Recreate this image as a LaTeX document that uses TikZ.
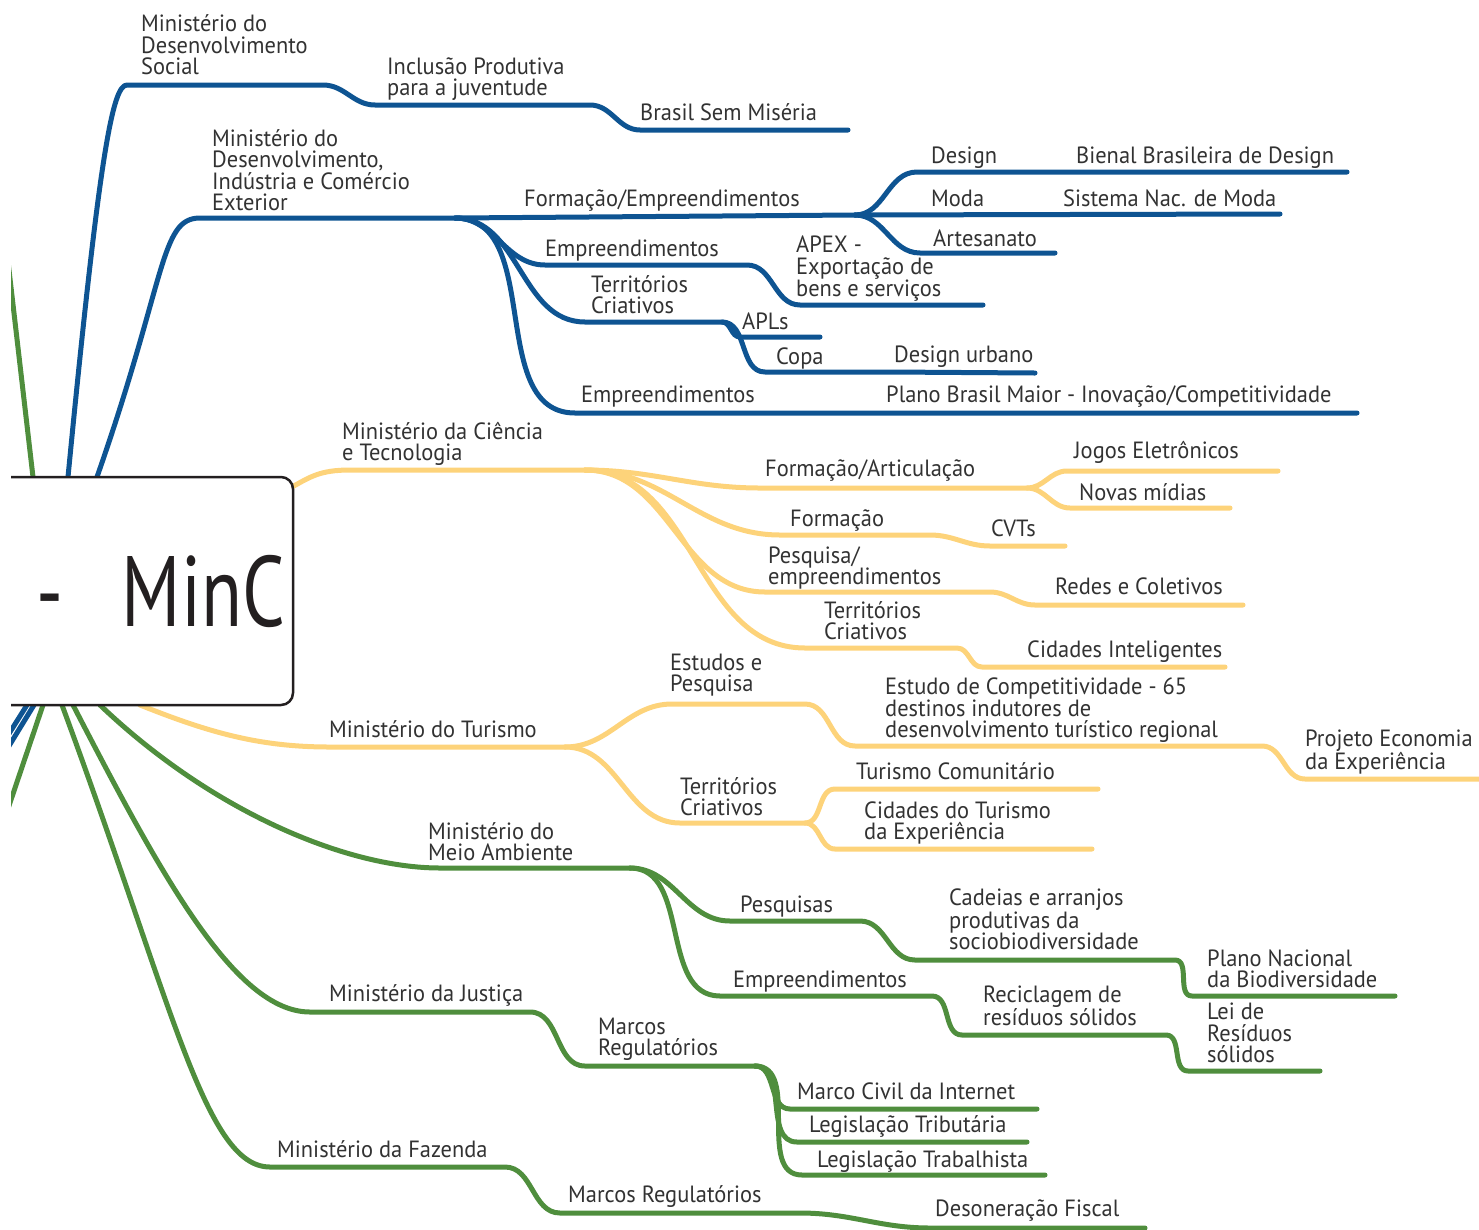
\documentclass[tikz,border=0pt]{standalone}
\usepackage{fontspec}
\setmainfont[FakeStretch=0.955]{PT Sans}
\usetikzlibrary{positioning}
\definecolor{minblue}{RGB}{14,84,146}
\definecolor{minyellow}{RGB}{253,211,122}
\definecolor{mingreen}{RGB}{79,142,61}
\definecolor{txtgray}{RGB}{50,50,50}
\definecolor{boxblack}{RGB}{35,31,32}

% a branch segment: start and end of the line under a label
\newcommand{\seg}[3]{\coordinate (#1-a) at (#2); \coordinate (#1-b) at (#3);}

\begin{document}
\begin{tikzpicture}[x=1pt, y=-1pt,
  lbl/.style = {anchor=south west, align=left, inner sep=0pt, text depth=0pt,
    text=txtgray, font=\fontsize{23.5}{21.5}\selectfont},
  branch/.style = {line width=5pt, line cap=round, line join=round},
  bl/.style = {branch, draw=minblue},
  ye/.style = {branch, draw=minyellow},
  gr/.style = {branch, draw=mingreen},
  sc/.style = {out=0, in=180},
  rootbox/.style = {draw=boxblack, line width=2.5pt, rounded corners=12pt,
    fill=white, minimum width=493pt, minimum height=228pt, text width=477pt,
    inner xsep=8pt, align=right, text=boxblack}
  ]
  \useasboundingbox (0,0) rectangle (1479,1229);
  \clip (11,-10) rectangle (1490,1240);

  % points on the central box
  \coordinate (r-top) at (33,477);
  \coordinate (r-mds) at (68,477);
  \coordinate (r-mdic) at (97,477);
  \coordinate (r-mct) at (292,487);
  \coordinate (r-b2) at (27,705);
  \coordinate (r-b1) at (34,705);
  \coordinate (r-g) at (43,705);
  \coordinate (r-mf) at (62,705);
  \coordinate (r-mj) at (73,705);
  \coordinate (r-mma) at (100,705);
  \coordinate (r-tur) at (140,705);
  % free ends beyond the left edge
  \coordinate (off-top) at (-10,106);
  \coordinate (off-g) at (-10,862);
  \coordinate (off-b1) at (-10,777);
  \coordinate (off-b2) at (-10,764);

  % blue
  \seg{mds}{127,85}{323,85}
  \seg{inc}{375,105}{590,105}
  \seg{bsm}{640,130}{848,130}
  \seg{mdic}{200,218}{455,218}
  \seg{fem}{455,218}{855,215}
  \seg{des}{917,172}{1030,172}
  \seg{bie}{1030,172}{1347,172}
  \seg{mod}{855,215}{1280,214}
  \seg{art}{920,253}{1055,253}
  \seg{emp1}{545,265}{747,265}
  \seg{apex}{800,305}{983,305}
  \seg{ter1}{585,322}{722,322}
  \seg{apl}{740,337}{820,337}
  \seg{copa}{765,372}{890,372}
  \seg{durb}{890,372}{1035,373}
  \seg{emp2}{575,413}{1357,413}
  % yellow
  \seg{mct}{350,470}{585,470}
  \seg{fart}{760,488}{1027,488}
  \seg{jog}{1067,471}{1278,471}
  \seg{nov}{1070,508}{1230,508}
  \seg{form}{780,535}{930,535}
  \seg{cvt}{990,546}{1065,546}
  \seg{pesq}{765,592}{990,592}
  \seg{rede}{1035,605}{1243,605}
  \seg{ter2}{805,648}{957,648}
  \seg{cid}{982,667}{1225,667}
  \seg{tur}{330,747}{565,747}
  \seg{est}{672,704}{805,704}
  \seg{comp}{855,746}{1262,746}
  \seg{proj}{1305,779}{1500,779}
  \seg{ter3}{680,823}{805,823}
  \seg{tcom}{835,789}{1098,789}
  \seg{ctur}{835,849}{1092,849}
  % green
  \seg{mma}{440,868}{630,868}
  \seg{pqs}{730,921}{860,921}
  \seg{cad}{915,960}{1175,960}
  \seg{pnb}{1192,996}{1395,996}
  \seg{emp3}{720,996}{932,996}
  \seg{rec}{962,1035}{1166,1035}
  \seg{lei}{1188,1071}{1320,1071}
  \seg{mj}{310,1012}{530,1012}
  \seg{mr1}{585,1066}{755,1066}
  \seg{mci}{790,1109}{1037,1109}
  \seg{ltb}{797,1142}{1027,1142}
  \seg{ltr}{802,1175}{1045,1175}
  \seg{mf}{270,1167}{505,1167}
  \seg{mr2}{560,1213}{800,1213}
  \seg{dfi}{930,1228}{1145,1228}

  % branches leaving the page
  \draw[gr] (r-top) -- (off-top);
  \draw[gr] (r-g) -- (off-g);
  \draw[bl] (r-b1) -- (off-b1);
  \draw[bl] (r-b2) -- (off-b2);

  % Desenvolvimento Social
  \draw[bl] (r-mds) .. controls +(32,-330) and +(-14,0) .. (mds-a) -- (mds-b)
    to[sc] (inc-a) -- (inc-b) to[sc] (bsm-a) -- (bsm-b);
  % MDIC
  \draw[bl] (r-mdic) .. controls +(70,-200) and +(-40,0) .. (mdic-a) -- (mdic-b) -- (fem-b);
  \draw[bl] (fem-b) to[sc] (des-a) -- (des-b) -- (bie-b);
  \draw[bl] (fem-b) -- (mod-b);
  \draw[bl] (fem-b) to[sc] (art-a) -- (art-b);
  \draw[bl] (mdic-b) to[sc] (emp1-a) -- (emp1-b) to[sc] (apex-a) -- (apex-b);
  \draw[bl] (mdic-b) to[sc] (ter1-a) -- (ter1-b) to[sc] (apl-a) -- (apl-b);
  \draw[bl] (ter1-b) to[sc] (copa-a) -- (copa-b) -- (durb-b);
  \draw[bl] (mdic-b) to[sc] (emp2-a) -- (emp2-b);

  % Ciencia e Tecnologia
  \draw[ye] (r-mct) .. controls +(18,-10) and +(-30,0) .. (mct-a) -- (mct-b);
  \draw[ye] (mct-b) to[sc] (fart-a) -- (fart-b) to[sc] (jog-a) -- (jog-b);
  \draw[ye] (fart-b) to[sc] (nov-a) -- (nov-b);
  \draw[ye] (mct-b) to[sc] (form-a) -- (form-b) to[sc] (cvt-a) -- (cvt-b);
  \draw[ye] (mct-b) to[sc] (pesq-a) -- (pesq-b) to[sc] (rede-a) -- (rede-b);
  \draw[ye] (mct-b) to[sc] (ter2-a) -- (ter2-b) to[sc] (cid-a) -- (cid-b);
  % Turismo
  \draw[ye] (r-tur) .. controls +(70,28) and +(-70,0) .. (tur-a) -- (tur-b);
  \draw[ye] (tur-b) to[sc] (est-a) -- (est-b) to[sc] (comp-a) -- (comp-b)
    to[sc] (proj-a) -- (proj-b);
  \draw[ye] (tur-b) to[sc] (ter3-a) -- (ter3-b) to[sc] (tcom-a) -- (tcom-b);
  \draw[ye] (ter3-b) to[sc] (ctur-a) -- (ctur-b);

  % Meio Ambiente
  \draw[gr] (r-mma) .. controls +(110,105) and +(-95,0) .. (mma-a) -- (mma-b);
  \draw[gr] (mma-b) to[sc] (pqs-a) -- (pqs-b) to[sc] (cad-a) -- (cad-b)
    to[sc] (pnb-a) -- (pnb-b);
  \draw[gr] (mma-b) to[sc] (emp3-a) -- (emp3-b) to[sc] (rec-a) -- (rec-b)
    to[sc] (lei-a) -- (lei-b);
  % Justica
  \draw[gr] (r-mj) .. controls +(88,170) and +(-75,0) .. (mj-a) -- (mj-b)
    to[sc] (mr1-a) -- (mr1-b);
  \draw[gr] (mr1-b) to[sc] (mci-a) -- (mci-b);
  \draw[gr] (mr1-b) to[sc] (ltb-a) -- (ltb-b);
  \draw[gr] (mr1-b) to[sc] (ltr-a) -- (ltr-b);
  % Fazenda
  \draw[gr] (r-mf) .. controls +(111,300) and +(-65,0) .. (mf-a) -- (mf-b)
    to[sc] (mr2-a) -- (mr2-b) to[sc] (dfi-a) -- (dfi-b);

  % central box
  \node[rootbox] (root) at (46.5,591)
    {\fontsize{100}{100}\selectfont\raisebox{-4pt}{\scalebox{0.785}[1]{-\hspace{74pt}MinC}}};

  % labels
  \node[lbl] (mds) at (141,75) {Ministério do\\Desenvolvimento\\Social};
  \node[lbl] (inc) at (387,96) {Inclusão Produtiva\\para a juventude};
  \node[lbl] (bsm) at (640,121) {Brasil Sem Miséria};
  \node[lbl] (mdic) at (212,211) {Ministério do\\Desenvolvimento,\\Indústria e Comércio\\Exterior};
  \node[lbl] (fem) at (524,207) {Formação/Empreendimentos};
  \node[lbl] (des) at (931,164) {Design};
  \node[lbl] (bie) at (1076,164) {Bienal Brasileira de Design};
  \node[lbl] (mod) at (931,207) {Moda};
  \node[lbl] (sis) at (1063,207) {Sistema Nac. de Moda};
  \node[lbl] (art) at (933,247) {Artesanato};
  \node[lbl] (emp1) at (545,257) {Empreendimentos};
  \node[lbl] (apex) at (796,297) {APEX -\\Exportação de\\bens e serviços};
  \node[lbl] (ter1) at (591,314) {Territórios\\Criativos};
  \node[lbl] (apl) at (742,330) {APLs};
  \node[lbl] (copa) at (776,365) {Copa};
  \node[lbl] (durb) at (894,363) {Design urbano};
  \node[lbl] (emp2) at (581,403) {Empreendimentos};
  \node[lbl] (plano) at (886,403) {Plano Brasil Maior - Inovação/Competitividade};

  \node[lbl] (mct) at (342,461) {Ministério da Ciência\\e Tecnologia};
  \node[lbl] (fart) at (765,477) {Formação/Articulação};
  \node[lbl] (jog) at (1074,459) {Jogos Eletrônicos};
  \node[lbl] (nov) at (1079,501) {Novas mídias};
  \node[lbl] (form) at (790,527) {Formação};
  \node[lbl] (cvt) at (991,537) {CVTs};
  \node[lbl] (pesq) at (768,585) {Pesquisa/\\empreendimentos};
  \node[lbl] (rede) at (1055,595) {Redes e Coletivos};
  \node[lbl] (ter2) at (824,640) {Territórios\\Criativos};
  \node[lbl] (cid) at (1027,658) {Cidades Inteligentes};
  \node[lbl] (tur) at (329,738) {Ministério do Turismo};
  \node[lbl] (est) at (670,692) {Estudos e\\Pesquisa};
  \node[lbl] (comp) at (885,738) {Estudo de Competitividade - 65\\destinos indutores de\\desenvolvimento turístico regional};
  \node[lbl] (proj) at (1305,770) {Projeto Economia\\da Experiência};
  \node[lbl] (ter3) at (680,816) {Territórios\\Criativos};
  \node[lbl] (tcom) at (856,780) {Turismo Comunitário};
  \node[lbl] (ctur) at (864,840) {Cidades do Turismo\\da Experiência};

  \node[lbl] (mma) at (428,861) {Ministério do\\Meio Ambiente};
  \node[lbl] (pqs) at (740,913) {Pesquisas};
  \node[lbl] (cad) at (949,950) {Cadeias e arranjos\\produtivas da\\sociobiodiversidade};
  \node[lbl] (pnb) at (1207,988) {Plano Nacional\\da Biodiversidade};
  \node[lbl] (emp3) at (733,988) {Empreendimentos};
  \node[lbl] (rec) at (983,1026) {Reciclagem de\\resíduos sólidos};
  \node[lbl] (lei) at (1207,1063) {Lei de\\Resíduos\\sólidos};
  \node[lbl] (mj) at (329,1002) {Ministério da Justiça};
  \node[lbl] (mr1) at (598,1056) {Marcos\\Regulatórios};
  \node[lbl] (mci) at (797,1100) {Marco Civil da Internet};
  \node[lbl] (ltb) at (809,1133) {Legislação Tributária};
  \node[lbl] (ltr) at (817,1168) {Legislação Trabalhista};
  \node[lbl] (mf) at (277,1158) {Ministério da Fazenda};
  \node[lbl] (mr2) at (568,1203) {Marcos Regulatórios};
  \node[lbl] (dfi) at (935,1217) {Desoneração Fiscal};
\end{tikzpicture}
\end{document}
